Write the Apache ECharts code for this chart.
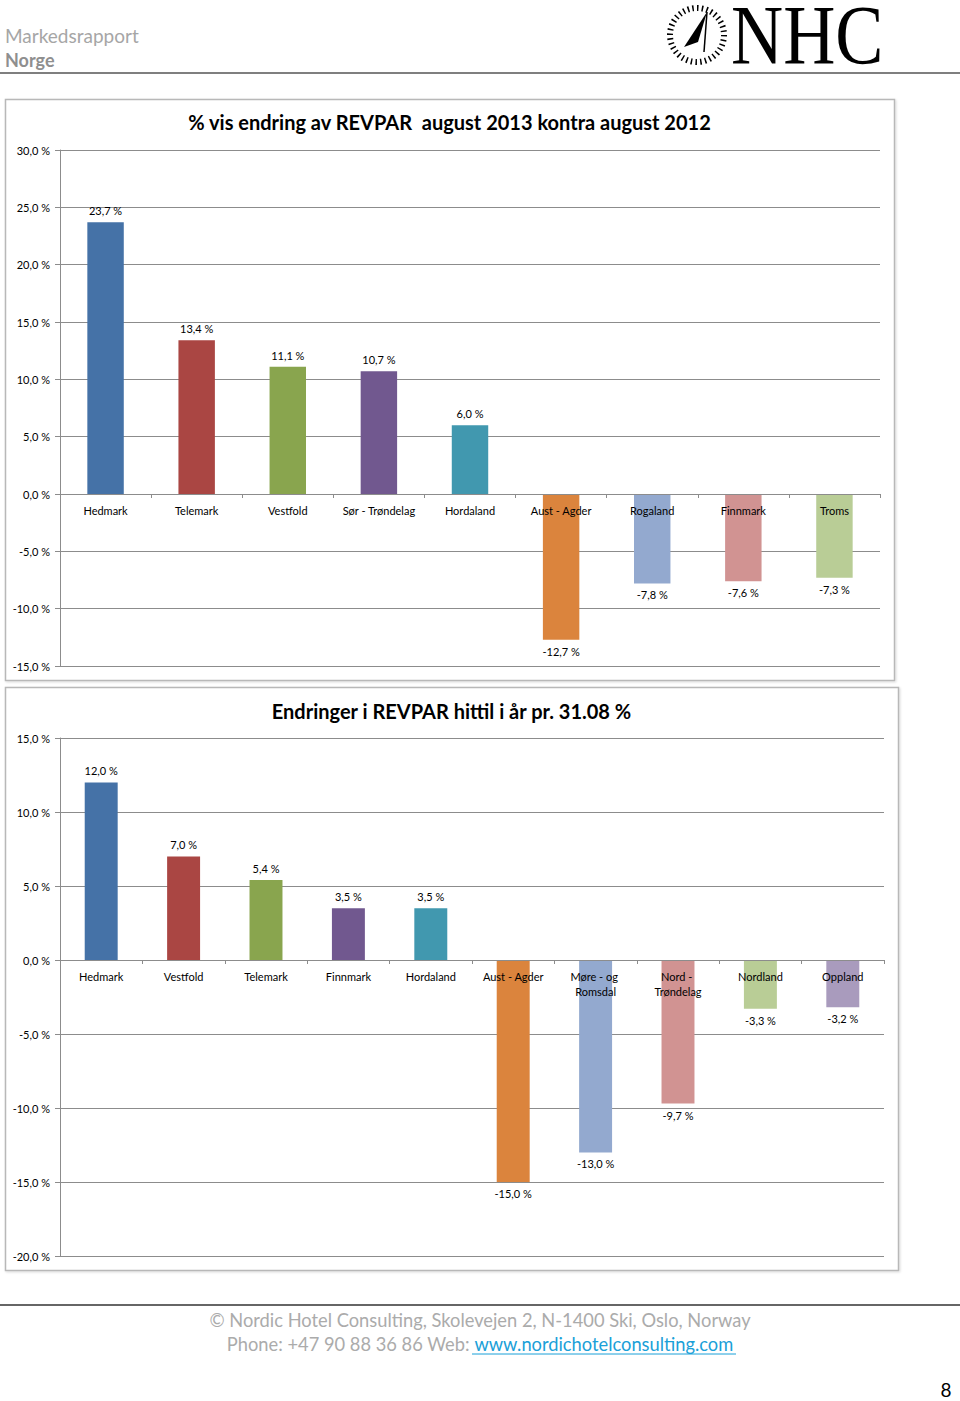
<!DOCTYPE html>
<html><head><meta charset="utf-8">
<script src="https://cdn.jsdelivr.net/npm/echarts@6/dist/echarts.min.js"></script>
<style>html,body{margin:0;padding:0;background:#fff}#c{width:960px;height:1401px}</style>
</head><body><div id="c"></div>
<script>
// ---- Data ----
const title1 = '% vis endring av REVPAR  august 2013 kontra august 2012';
const categories1 = ['Hedmark', 'Telemark', 'Vestfold', 'Sør - Trøndelag', 'Hordaland', 'Aust - Agder', 'Rogaland', 'Finnmark', 'Troms'];
const values1 = [23.7, 13.4, 11.1, 10.7, 6.0, -12.7, -7.8, -7.6, -7.3];
const yTicks1 = [-15, -10, -5, 0, 5, 10, 15, 20, 25, 30];

const title2 = 'Endringer i REVPAR hittil i år pr. 31.08 %';
const categories2 = ['Hedmark', 'Vestfold', 'Telemark', 'Finnmark', 'Hordaland', 'Aust - Agder', 'Møre - og Romsdal', 'Nord - Trøndelag', 'Nordland', 'Oppland'];
const values2 = [12.0, 7.0, 5.4, 3.5, 3.5, -15.0, -13.0, -9.7, -3.3, -3.2];
const yTicks2 = [-20, -15, -10, -5, 0, 5, 10, 15];

const palette = ['#4572A7', '#AA4643', '#89A54E', '#71588F', '#4198AF', '#DB843D', '#93A9CF', '#D19392', '#B9CD96', '#A99BBD'];

// ---- Helpers ----
const FONT = 'Lato, "Noto Sans", sans-serif';
const fmt = v => v.toFixed(1).replace('.', ',') + ' %';
const gridColor = '#8c8c8c';
const gridBoxes = [
  { left: 60, right: 80, top: 150, height: 516 },
  { left: 60, right: 76, top: 738, height: 518 }
];

function yAxisFor(gridIndex, ticks) {
  return {
    type: 'value', gridIndex,
    min: ticks[0], max: ticks[ticks.length - 1], interval: ticks[1] - ticks[0],
    axisLine: { show: true, lineStyle: { color: gridColor, width: 1 } },
    axisTick: { show: true, length: 5, lineStyle: { color: gridColor } },
    splitLine: { show: true, lineStyle: { color: gridColor, width: 1 } },
    axisLabel: { formatter: fmt, color: '#000', fontSize: 11, fontFamily: FONT, margin: 10 }
  };
}
function xAxisFor(gridIndex, cats, labelWidth, ticks) {
  // place the category axis at the value-axis zero line
  const lo = ticks[0], hi = ticks[ticks.length - 1];
  const zeroOffset = -(0 - lo) / (hi - lo) * gridBoxes[gridIndex].height;
  return {
    type: 'category', gridIndex, data: cats, z: 5,
    position: 'bottom', offset: zeroOffset,
    axisLine: { show: true, onZero: false, lineStyle: { color: gridColor, width: 1 } },
    axisTick: { show: true, length: 4, lineStyle: { color: gridColor } },
    axisLabel: { interval: 0, color: '#000', fontSize: 11, fontFamily: FONT, margin: 9, lineHeight: 15,
      width: labelWidth, overflow: labelWidth ? 'break' : 'none' },
    splitLine: { show: false }
  };
}
function barSeries(idx, vals) {
  return {
    type: 'bar', xAxisIndex: idx, yAxisIndex: idx, barWidth: '40%',
    data: vals.map((v, i) => ({ value: v, itemStyle: { color: palette[i % palette.length] } })),
    label: { show: true, position: 'outside', distance: 6, formatter: p => fmt(p.value), color: '#000', fontSize: 11, fontFamily: FONT },
    animation: false
  };
}

const chart = echarts.init(document.getElementById('c'), null, { renderer: 'svg' });
chart.setOption({
  backgroundColor: '#fff',
  animation: false,
  grid: gridBoxes.map(g => Object.assign({ containLabel: false }, g)),
  xAxis: [xAxisFor(0, categories1, null, yTicks1), xAxisFor(1, categories2, 72, yTicks2)],
  yAxis: [yAxisFor(0, yTicks1), yAxisFor(1, yTicks2)],
  series: [barSeries(0, values1), barSeries(1, values2)],
  graphic: [
    // panels
    { type: 'rect', z: -10, shape: { x: 5.5, y: 99.5, width: 889, height: 581 }, style: { fill: '#fff', stroke: '#b8b8b8', lineWidth: 1.5, shadowColor: 'rgba(0,0,0,0.15)', shadowBlur: 2, shadowOffsetX: 1, shadowOffsetY: 1 } },
    { type: 'rect', z: -10, shape: { x: 5.5, y: 687.5, width: 893, height: 583 }, style: { fill: '#fff', stroke: '#b8b8b8', lineWidth: 1.5, shadowColor: 'rgba(0,0,0,0.15)', shadowBlur: 2, shadowOffsetX: 1, shadowOffsetY: 1 } },
    // titles
    { type: 'text', style: { x: 449.5, y: 122, text: title1, align: 'center', verticalAlign: 'middle', font: 'bold 20px ' + FONT, fill: '#000' } },
    { type: 'text', style: { x: 451.5, y: 711, text: title2, align: 'center', verticalAlign: 'middle', font: 'bold 20px ' + FONT, fill: '#000' } },
    // header
    { type: 'text', style: { x: 5, y: 35, text: 'Markedsrapport', verticalAlign: 'middle', font: '19px ' + FONT, fill: '#a6a6a6' } },
    { type: 'text', style: { x: 5, y: 60, text: 'Norge', verticalAlign: 'middle', font: 'bold 18px ' + FONT, fill: '#8f8f8f' } },
    { type: 'line', shape: { x1: 0, y1: 73, x2: 960, y2: 73 }, style: { stroke: '#555', lineWidth: 1.5 } },
    // logo
    { type: 'circle', shape: { cx: 697, cy: 35, r: 27 }, style: { fill: 'none', stroke: '#000', lineWidth: 6, lineDash: [1.5, 3.2] } },
    { type: 'polygon', shape: { points: [[707, 12], [684, 47], [698, 42]] }, style: { fill: '#000' } },
    { type: 'polyline', shape: { points: [[707, 12], [704, 52]] }, style: { stroke: '#000', lineWidth: 1.5 } },
    { type: 'text', x: 731, y: 36, scaleX: 0.86, style: { x: 0, y: 0, text: 'NHC', verticalAlign: 'middle', lineHeight: 62, font: '84px "Liberation Serif", "DejaVu Serif", serif', fill: '#000' } },
    // footer
    { type: 'line', shape: { x1: 0, y1: 1305, x2: 960, y2: 1305 }, style: { stroke: '#333', lineWidth: 1.5 } },
    { type: 'text', style: { x: 480, y: 1320, text: '© Nordic Hotel Consulting, Skolevejen 2, N-1400 Ski, Oslo, Norway', align: 'center', verticalAlign: 'middle', font: '18.3px ' + FONT, fill: '#ababab' } },
    { type: 'text', style: { x: 480, y: 1344, align: 'center', verticalAlign: 'middle', text: '{a|Phone: +47 90 88 36 86 Web: }{b|www.nordichotelconsulting.com}',
        rich: { a: { fontSize: 18.3, fontFamily: FONT, fill: '#ababab' }, b: { fontSize: 18.3, fontFamily: FONT, fill: '#1aa0d8' } } } },
    { type: 'line', shape: { x1: 472, y1: 1354, x2: 736, y2: 1354 }, style: { stroke: '#1aa0d8', lineWidth: 1 } },
    { type: 'text', style: { x: 946, y: 1389, text: '8', align: 'center', verticalAlign: 'middle', lineHeight: 16, font: '19px ' + FONT, fill: '#000' } }
  ]
});
</script></body></html>
